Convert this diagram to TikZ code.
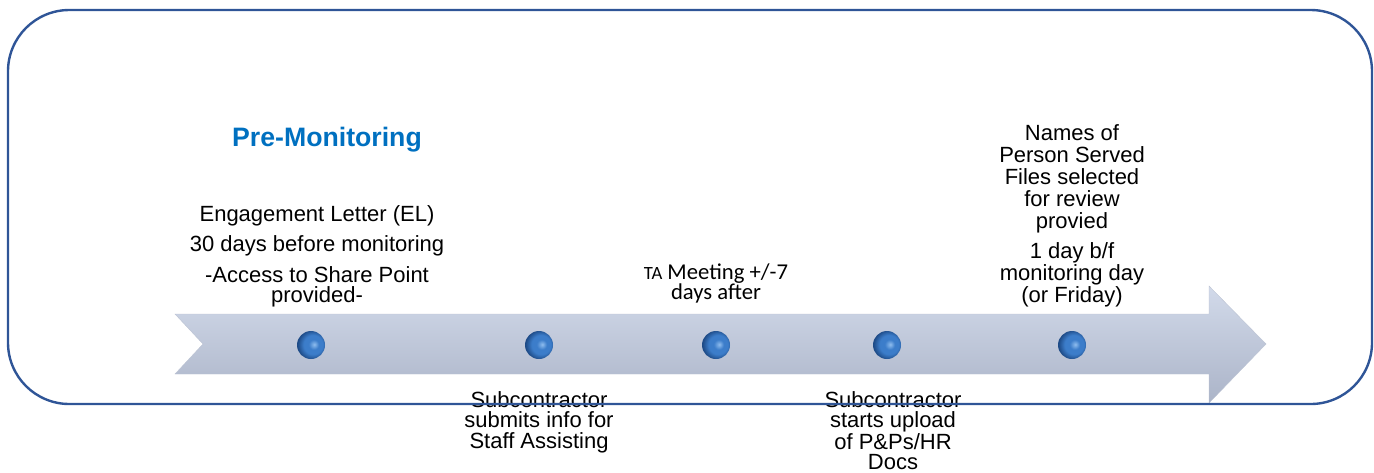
\documentclass[tikz,border=0pt]{standalone}
\usepackage{fontspec}
\setmainfont{Liberation Sans}
\newfontfamily\calibrifont{Carlito}

\definecolor{framecol}{HTML}{2F5597}
\definecolor{titlecol}{HTML}{0070C0}
\definecolor{arrowtop}{HTML}{D2DAEA}
\definecolor{arrowbot}{HTML}{ABB4C8}
\definecolor{dotlight}{HTML}{8FBDEE}
\definecolor{dotcol}{HTML}{3C7DCA}
\definecolor{dotdark}{HTML}{1D4A86}

\pgfdeclareradialshading{bluedot}{\pgfpoint{6bp}{1bp}}{color(0bp)=(dotlight); color(9bp)=(dotcol); color(17bp)=(dotcol); color(27bp)=(dotdark); color(50bp)=(dotdark)}

\tikzset{
    steptext/.style={align=center, anchor=north, inner sep=0pt,
        font=\fontsize{16.5}{15.3}\selectfont},
    dot/.style={circle, minimum size=21pt, inner sep=0pt, shade, shading=bluedot},
}

\begin{document}
\begin{tikzpicture}[x=0.75pt, y=-0.75pt]
    \useasboundingbox (0,0) rectangle (1374,472);

    % timeline arrow
    \shade[top color=arrowtop, bottom color=arrowbot, draw=arrowbot!80, line width=0.3pt]
        (175,314) -- (1209,314) -- (1209,286) -- (1266,344) -- (1209,403)
        -- (1209,374) -- (175,374) -- (203,344) -- cycle;

    % steps on the timeline
    \node[dot] (el) at (311,345) {};
    \node[dot] (sub) at (539,345) {};
    \node[dot] (ta) at (716,345) {};
    \node[dot] (upl) at (887,345) {};
    \node[dot] (names) at (1072,345) {};

    \node[font=\bfseries\fontsize{20}{20}\selectfont, text=titlecol] (title) at (327,140) {Pre-Monitoring};

    \node[steptext] (eltext) at (317,205)
        {Engagement Letter (EL)\\[6.5pt] 30 days before monitoring\\[6.5pt] -Access to Share Point\\ provided-};
    \node[steptext, font=\calibrifont\fontsize{17}{15.5}\selectfont] (tatext) at (716,263)
        {{\fontsize{14}{15.5}\selectfont TA} Meeting +/-7\\ days after};
    \node[steptext, font=\fontsize{16.5}{16.5}\selectfont] (namestext) at (1072,124)
        {Names of\\ Person Served\\ Files selected\\ for review\\ provied\\[6pt] 1 day b/f\\ monitoring day\\ (or Friday)};
    \node[steptext] (subtext) at (539,391)
        {Subcontractor\\ submits info for\\ Staff Assisting};
    \node[steptext] (upltext) at (893,391)
        {Subcontractor\\ starts upload\\ of P\&Ps/HR\\ Docs};

    % frame
    \draw[framecol, line width=1.8pt, rounded corners=46pt] (8,10) rectangle (1372,404);
\end{tikzpicture}
\end{document}
